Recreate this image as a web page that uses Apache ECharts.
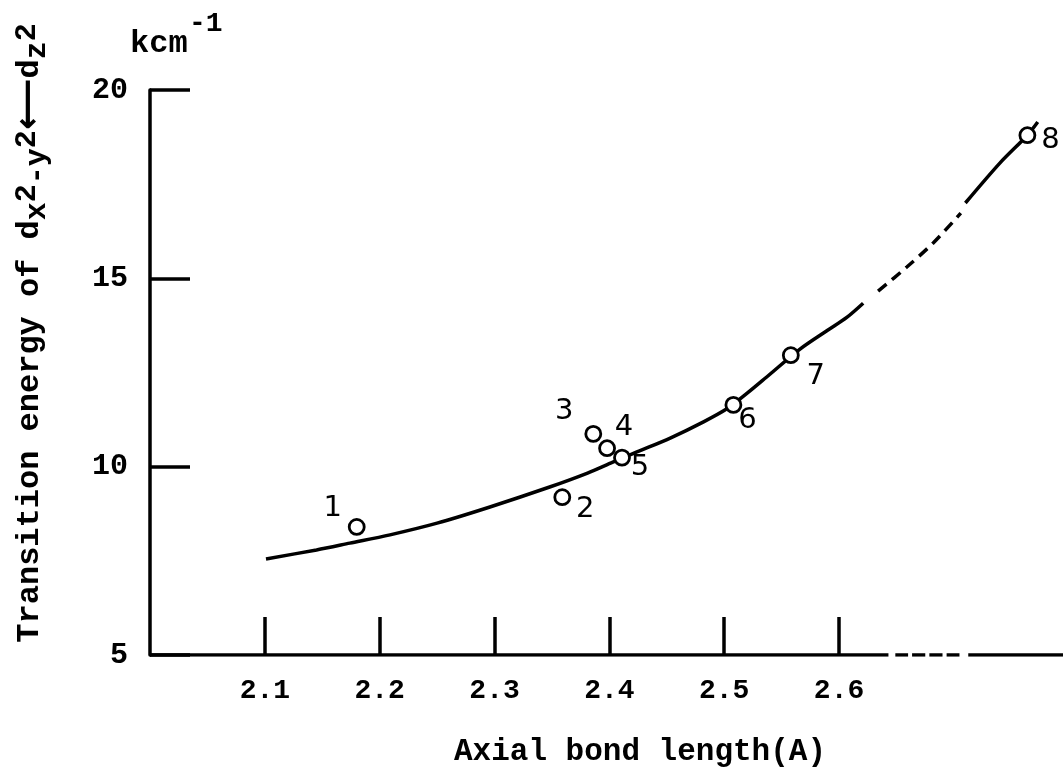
<!DOCTYPE html>
<html><head><meta charset="utf-8">
<script src="https://cdn.jsdelivr.net/npm/echarts@6/dist/echarts.min.js"></script>
<style>html,body{margin:0;padding:0;background:#fff}#c{width:1064px;height:773px}</style>
</head><body><div id="c"></div>
<script>
// ---- data ----
const xTickValues = [2.1, 2.2, 2.3, 2.4, 2.5, 2.6];
const xTickLabels = ['2.1', '2.2', '2.3', '2.4', '2.5', '2.6'];
const yTickValues = [5, 10, 15, 20];
const yTickLabels = ['5', '10', '15', '20'];
const pointNames = ['1', '2', '3', '4', '5', '6', '7', '8'];
const pointX = [2.180, 2.359, 2.386, 2.398, 2.411, 2.508, 2.558, 2.764];
const pointY = [8.40, 9.19, 10.87, 10.49, 10.24, 11.64, 12.96, 18.80];
const curveX = [2.101, 2.145, 2.174, 2.209, 2.250, 2.296, 2.348, 2.381, 2.403, 2.424, 2.453, 2.482, 2.503, 2.520, 2.537, 2.566, 2.590, 2.607, 2.621];
const curveY = [7.55, 7.79, 7.97, 8.19, 8.50, 8.93, 9.46, 9.83, 10.12, 10.39, 10.76, 11.19, 11.55, 11.95, 12.38, 13.12, 13.62, 13.97, 14.34];
const curveDashX = [2.634, 2.659, 2.682, 2.706];
const curveDashY = [14.66, 15.30, 15.94, 16.73];
const curveTopX = [2.710, 2.740, 2.764, 2.773];
const curveTopY = [17.00, 18.06, 18.80, 19.15];
const axisSolidX = [2.0, 2.643];
const axisDashX = [2.649, 2.706];
const axisEndX = [2.7125, 2.795];
const axisBaseY = 5;

// ---- styles ----
const MONO = '"Liberation Mono", "DejaVu Sans Mono", monospace';
const HAND = '"DejaVu Sans", "Liberation Sans", sans-serif';
const labelOffsets = [[-24, -18], [23, 12], [-29, -22], [17, -21], [18, 10], [14, 16], [25, 21], [23, 5]];

const zip = (xs, ys) => xs.map((x, i) => [x, ys[i]]);
const flat = xs => xs.map(x => [x, axisBaseY]);

const lineSeries = (data, type, w) => ({
  type: 'line', data, symbol: 'none', silent: true, smooth: 0.3, z: 2,
  lineStyle: { color: '#000', width: w || 3.5, type: type || 'solid', cap: 'butt' }
});

const chart = echarts.init(document.getElementById('c'), null, { renderer: 'canvas' });
chart.setOption({
  backgroundColor: '#fff',
  animation: false,
  grid: { left: 150, top: 90, width: 913, height: 565, containLabel: false },
  xAxis: {
    type: 'value', min: 2.0, max: 2.795,
    axisLine: { show: false },
    splitLine: { show: false },
    axisTick: { show: true, inside: true, length: 38, customValues: xTickValues, lineStyle: { color: '#000', width: 3.5 } },
    axisLabel: {
      customValues: xTickValues, margin: 22, color: '#000', fontFamily: MONO, fontSize: 28, fontWeight: 'bold',
      formatter: v => { const i = xTickValues.findIndex(t => Math.abs(t - v) < 1e-6); return i >= 0 ? xTickLabels[i] : ''; }
    }
  },
  yAxis: {
    type: 'value', min: 5, max: 20, interval: 5,
    axisLine: { show: true, lineStyle: { color: '#000', width: 3.5 } },
    splitLine: { show: false },
    axisTick: { show: true, inside: true, length: 40, lineStyle: { color: '#000', width: 3.5 } },
    axisLabel: {
      margin: 22, color: '#000', fontFamily: MONO, fontSize: 30, fontWeight: 'bold',
      formatter: v => { const i = yTickValues.indexOf(v); return i >= 0 ? yTickLabels[i] : ''; }
    }
  },
  series: [
    lineSeries(flat(axisSolidX)),
    lineSeries(flat(axisDashX), [13, 4]),
    lineSeries(flat(axisEndX)),
    lineSeries(zip(curveX, curveY)),
    lineSeries(zip(curveDashX, curveDashY), [11, 7]),
    lineSeries(zip(curveTopX, curveTopY)),
    {
      type: 'scatter', z: 5, symbol: 'circle', symbolSize: 15,
      itemStyle: { color: '#fff', borderColor: '#000', borderWidth: 2.8, opacity: 1 },
      data: pointX.map((x, i) => ({
        value: [x, pointY[i]], name: pointNames[i],
        label: { show: true, position: 'inside', offset: labelOffsets[i], formatter: pointNames[i],
                 color: '#000', fontFamily: HAND, fontSize: 29, textBorderWidth: 0, opacity: 1 }
      }))
    }
  ],
  graphic: [
    { type: 'text', left: 130, top: 28, style: { text: 'kcm', font: 'bold 32px ' + MONO, fill: '#000' } },
    { type: 'text', left: 189, top: 10, style: { text: '-1', font: 'bold 28px ' + MONO, fill: '#000' } },
    { type: 'text', x: 640, y: 752, style: { text: 'Axial bond length(A)', font: 'bold 31px ' + MONO, fill: '#000', align: 'center', verticalAlign: 'middle' } },
    {
      type: 'text', x: 30, y: 333, rotation: Math.PI / 2,
      style: {
        text: 'Transition energy of d{sub|x}{sup|2}{sub|-y}{sup|2}{arr|⟵}d{sub|z}{sup|2}',
        font: 'bold 32px ' + MONO, fill: '#000', align: 'center', verticalAlign: 'middle',
        rich: {
          sub: { font: 'bold 30px ' + MONO, fill: '#000', padding: [14, 0, 0, 0] },
          sup: { font: 'bold 30px ' + MONO, fill: '#000', padding: [0, 0, 6, 0] },
          arr: { font: 'bold 36px "DejaVu Sans", sans-serif', fill: '#000' }
        }
      }
    }
  ]
});
</script></body></html>
